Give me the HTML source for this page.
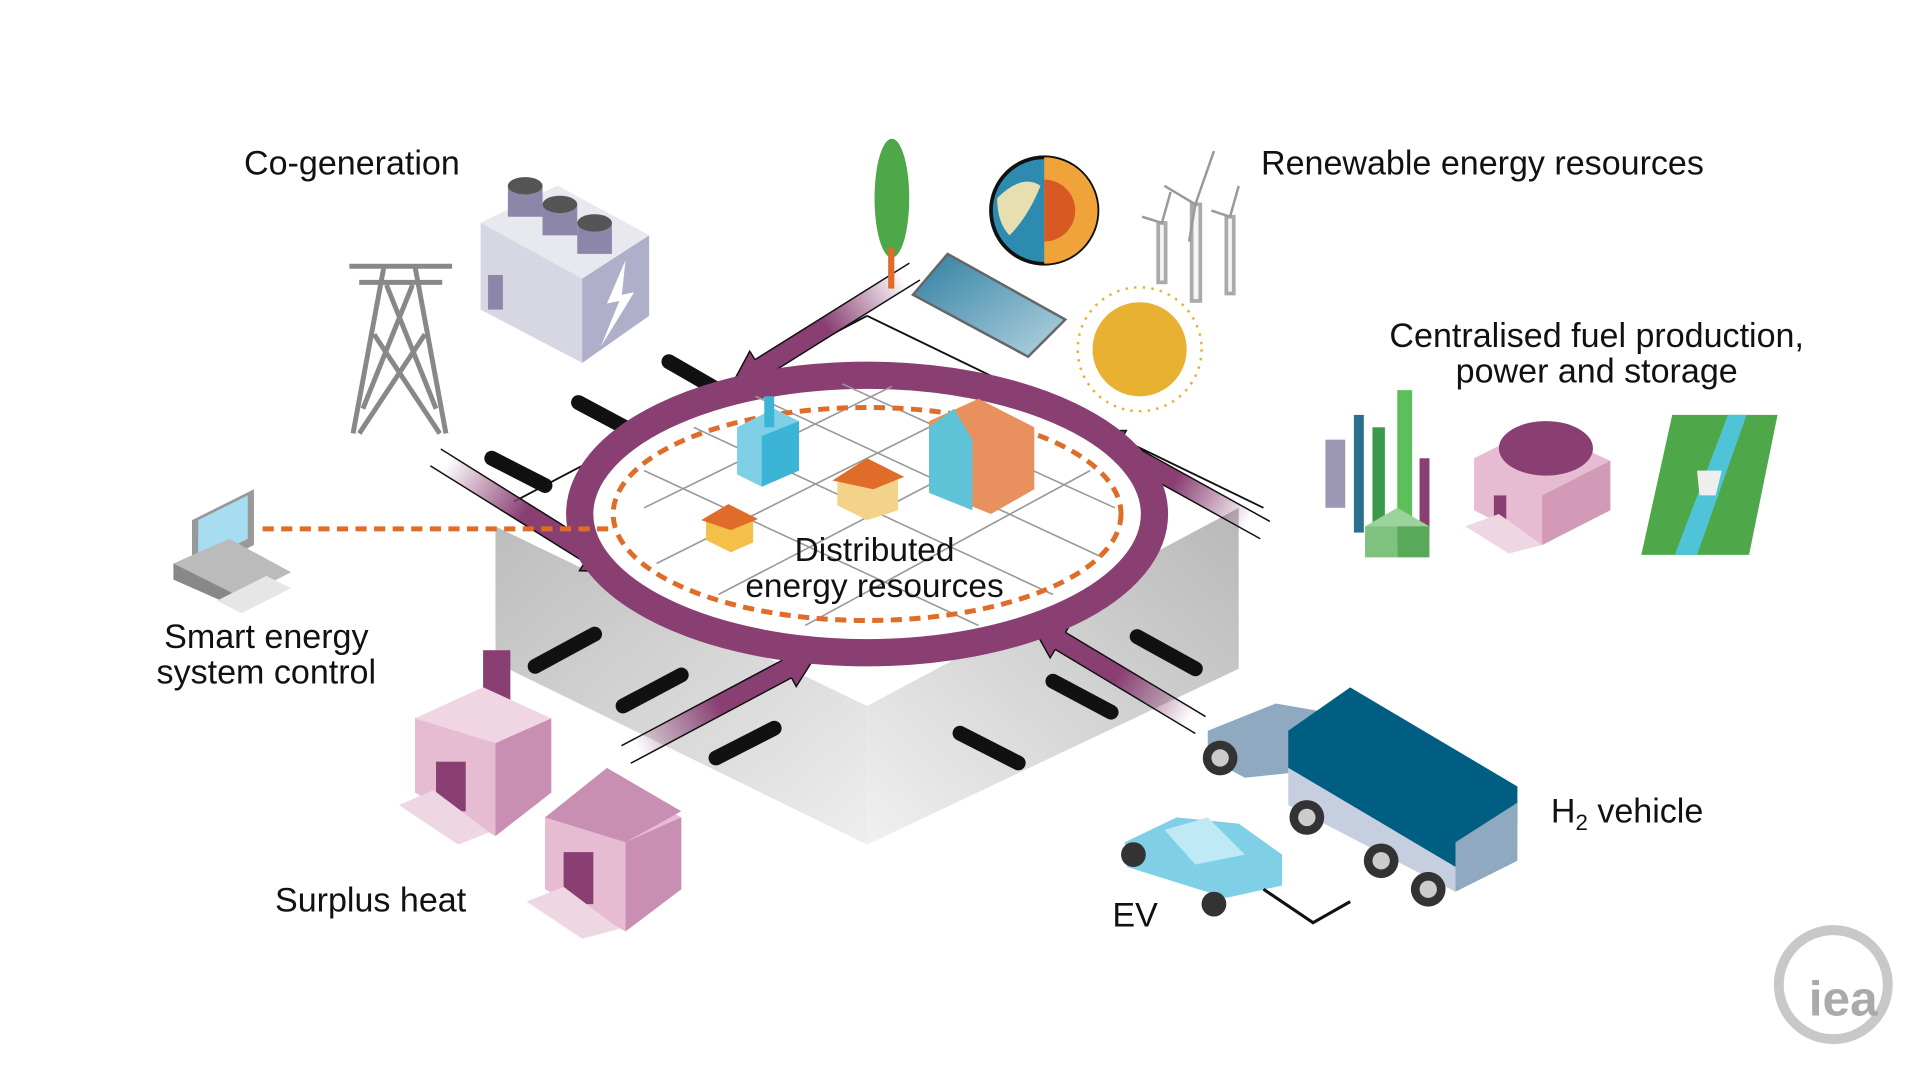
<!DOCTYPE html>
<html><head><meta charset="utf-8"><style>
html,body{margin:0;padding:0;background:#fff;width:1920px;height:1080px;overflow:hidden}
svg{display:block}
text{font-family:"Liberation Sans",sans-serif;fill:#111}
</style></head><body>
<svg width="1920" height="1080" viewBox="0 0 1550 872" preserveAspectRatio="none" xmlns="http://www.w3.org/2000/svg">
<defs>
<linearGradient id="gl" x1="0" y1="0" x2="1" y2="1"><stop offset="0" stop-color="#bdbdbd"/><stop offset="1" stop-color="#eeeeee"/></linearGradient>
<linearGradient id="gr" x1="1" y1="0" x2="0" y2="1"><stop offset="0" stop-color="#b8b8b8"/><stop offset="1" stop-color="#f0f0f0"/></linearGradient>
<linearGradient id="pa" x1="0" y1="0" x2="1" y2="0"><stop offset="0" stop-color="#8a3f73"/><stop offset="0.55" stop-color="#8a3f73"/><stop offset="1" stop-color="#8a3f73" stop-opacity="0"/></linearGradient>
<linearGradient id="sky" x1="0" y1="0" x2="1" y2="1"><stop offset="0" stop-color="#2f7fa0"/><stop offset="1" stop-color="#b5d4e2"/></linearGradient>
</defs>

<!-- platform -->
<polygon points="400,425 700,570 700,682 400,535" fill="url(#gl)"/>
<polygon points="700,570 1000,410 1000,540 700,682" fill="url(#gr)"/>
<polygon points="400,425 700,270 1000,410 700,570" fill="#fff"/>
<line x1="415" y1="405" x2="700" y2="255" stroke="#111" stroke-width="1.5"/>
<line x1="700" y1="255" x2="1020" y2="410" stroke="#111" stroke-width="1.5"/>

<!-- pipes -->
<g stroke="#111" stroke-width="12" stroke-linecap="round">
<line x1="540" y1="292" x2="585" y2="318"/>
<line x1="467" y1="325" x2="510" y2="348"/>
<line x1="397" y1="370" x2="440" y2="392"/>
<line x1="432" y1="538" x2="480" y2="512"/>
<line x1="503" y1="570" x2="550" y2="545"/>
<line x1="578" y1="612" x2="625" y2="588"/>
<line x1="775" y1="592" x2="822" y2="616"/>
<line x1="850" y1="550" x2="897" y2="575"/>
<line x1="918" y1="514" x2="965" y2="540"/>
</g>

<!-- arrows (bands) -->
<g fill="url(#pa)" stroke="#111" stroke-width="1.2">
<g transform="translate(590,312) rotate(-32)"><polygon points="165,-8 28,-8 28,-16 0,0 28,16 28,8 165,8" stroke="none"/><path d="M28 -8 L28 -16 L0 0 L28 16 L28 8" fill="none"/><line x1="28" y1="-8" x2="175" y2="-8"/><line x1="28" y1="8" x2="175" y2="8"/></g>
<g transform="translate(500,462) rotate(212)"><polygon points="165,-8 28,-8 28,-16 0,0 28,16 28,8 165,8" stroke="none"/><path d="M28 -8 L28 -16 L0 0 L28 16 L28 8" fill="none"/><line x1="28" y1="-8" x2="175" y2="-8"/><line x1="28" y1="8" x2="175" y2="8"/></g>
<g transform="translate(660,527) rotate(152)"><polygon points="165,-8 28,-8 28,-16 0,0 28,16 28,8 165,8" stroke="none"/><path d="M28 -8 L28 -16 L0 0 L28 16 L28 8" fill="none"/><line x1="28" y1="-8" x2="175" y2="-8"/><line x1="28" y1="8" x2="175" y2="8"/></g>
<g transform="translate(832,503) rotate(31)"><polygon points="150,-8 28,-8 28,-16 0,0 28,16 28,8 150,8" stroke="none"/><path d="M28 -8 L28 -16 L0 0 L28 16 L28 8" fill="none"/><line x1="28" y1="-8" x2="160" y2="-8"/><line x1="28" y1="8" x2="160" y2="8"/></g>
<g transform="translate(877,348) rotate(29)"><polygon points="150,-8 28,-8 28,-16 0,0 28,16 28,8 150,8" stroke="none"/><path d="M28 -8 L28 -16 L0 0 L28 16 L28 8" fill="none"/><line x1="28" y1="-8" x2="165" y2="-8"/><line x1="28" y1="8" x2="165" y2="8"/></g>
</g>

<!-- ring -->
<ellipse cx="700" cy="415" rx="232" ry="112" fill="#fff" stroke="#8a3f73" stroke-width="22"/>
<!-- grid -->
<g stroke="#999" stroke-width="1.3">
<line x1="520" y1="380" x2="790" y2="505"/><line x1="560" y1="345" x2="850" y2="480"/><line x1="610" y1="320" x2="890" y2="450"/><line x1="680" y1="310" x2="900" y2="410"/>
<line x1="530" y1="455" x2="780" y2="330"/><line x1="580" y1="480" x2="830" y2="350"/><line x1="650" y1="505" x2="880" y2="380"/><line x1="520" y1="410" x2="720" y2="312"/>
</g>
<ellipse cx="700" cy="415" rx="205" ry="86" fill="none" stroke="#e06c2a" stroke-width="4" stroke-dasharray="9 6"/>
<line x1="212" y1="427" x2="495" y2="427" stroke="#e06c2a" stroke-width="4" stroke-dasharray="9 6"/>

<!-- buildings in circle -->
<polygon points="595,345 625,330 645,340 645,380 615,393 595,383" fill="#7fd0e6"/>
<polygon points="615,352 645,340 645,380 615,393" fill="#3cb4d6"/>
<rect x="617" y="320" width="8" height="25" fill="#3cb4d6"/>
<polygon points="750,340 790,322 835,345 835,395 800,415 750,395" fill="#e8915e"/>
<polygon points="750,345 770,330 785,355 785,412 750,398" fill="#5fc3d8"/>
<polygon points="676,390 700,372 725,388 725,412 700,420 676,408" fill="#f3d28a"/>
<polygon points="672,388 700,370 730,385 705,395" fill="#e06c2a"/>
<polygon points="570,420 588,408 608,420 608,438 590,446 570,436" fill="#f4c04a"/>
<polygon points="566,420 588,407 612,419 590,428" fill="#e06c2a"/>

<text x="706" y="453" font-size="27" text-anchor="middle">Distributed</text>
<text x="706" y="482" font-size="27" text-anchor="middle">energy resources</text>

<!-- tower -->
<g stroke="#888" stroke-width="4" fill="none">
<line x1="310" y1="215" x2="285" y2="350"/><line x1="335" y1="215" x2="360" y2="350"/>
<line x1="282" y1="215" x2="365" y2="215"/><line x1="290" y1="228" x2="357" y2="228"/>
<path d="M312 230 L352 330 M333 230 L293 330 M302 270 L355 350 M343 270 L290 350"/>
</g>
<!-- cogen -->
<polygon points="388,180 450,150 524,190 524,255 470,293 388,250" fill="#d6d7e3"/>
<polygon points="470,225 524,190 524,255 470,293" fill="#b0afc9"/>
<polygon points="388,180 450,150 524,190 470,225" fill="#e8e8ef"/>
<g fill="#8c86a8"><rect x="410" y="150" width="28" height="25"/><rect x="438" y="165" width="28" height="25"/><rect x="466" y="180" width="28" height="25"/></g>
<g fill="#555"><ellipse cx="424" cy="150" rx="14" ry="7"/><ellipse cx="452" cy="165" rx="14" ry="7"/><ellipse cx="480" cy="180" rx="14" ry="7"/></g>
<rect x="394" y="222" width="12" height="28" fill="#8c86a8"/>
<polygon points="505,210 490,245 500,243 485,280 512,236 502,238" fill="#fff"/>

<!-- tree, solar, globe, wind, sun -->
<ellipse cx="720" cy="160" rx="14" ry="48" fill="#4ea84a"/>
<rect x="717" y="200" width="5" height="33" fill="#e06c2a"/>
<polygon points="737,238 765,205 860,258 830,288" fill="url(#sky)" stroke="#666" stroke-width="2"/>
<circle cx="843" cy="170" r="43" fill="#2d8bb0" stroke="#111" stroke-width="3"/>
<path d="M843 127 A43 43 0 0 1 843 213 Z" fill="#f0a33a"/>
<path d="M843 145 A25 25 0 0 1 843 195 Z" fill="#d85a22"/>
<path d="M805 160 Q825 140 840 150 Q830 175 815 190 Q805 180 805 160Z" fill="#e8dfb0"/>
<g stroke="#aaa" stroke-width="3" fill="#f4f4f4"><rect x="962" y="165" width="7" height="78"/><rect x="935" y="180" width="6" height="48"/><rect x="990" y="175" width="6" height="62"/></g>
<g stroke="#999" stroke-width="2"><path d="M965 165 L980 122 M965 165 L940 150 M965 165 L960 195"/><path d="M938 180 L945 155 M938 180 L922 175"/><path d="M993 175 L1000 150 M993 175 L978 170"/></g>
<circle cx="920" cy="282" r="38" fill="#e8b132"/>
<circle cx="920" cy="282" r="50" fill="none" stroke="#e8b132" stroke-width="2" stroke-dasharray="2 5"/>

<!-- centralised -->
<g>
<rect x="1070" y="355" width="16" height="55" fill="#9c97b5"/>
<rect x="1093" y="335" width="8" height="95" fill="#2a6f8c"/>
<rect x="1108" y="345" width="10" height="85" fill="#3a9a4a"/>
<rect x="1128" y="315" width="12" height="115" fill="#5cbf5a"/>
<rect x="1146" y="370" width="8" height="60" fill="#8a3f73"/>
<polygon points="1102,425 1128,410 1154,425 1128,440" fill="#9bd49a"/>
<rect x="1102" y="425" width="26" height="25" fill="#7fc27d"/>
<rect x="1128" y="425" width="26" height="25" fill="#5aa85a"/>
</g>
<polygon points="1190,370 1240,345 1300,372 1300,412 1245,440 1190,412" fill="#e6bcd2"/>
<polygon points="1245,400 1300,372 1300,412 1245,440" fill="#d39ab8"/>
<ellipse cx="1248" cy="362" rx="38" ry="22" fill="#8a3f73"/>
<rect x="1206" y="400" width="10" height="25" fill="#8a3f73"/>
<polygon points="1183,425 1210,415 1245,440 1218,447" fill="#eed6e2"/>
<polygon points="1350,335 1435,335 1412,448 1325,448" fill="#4ea84a"/>
<polygon points="1395,335 1410,335 1370,448 1352,448" fill="#4fc4d8"/>
<polygon points="1370,380 1390,380 1385,400 1372,400" fill="#eee"/>

<!-- computer -->
<polygon points="155,420 205,395 205,440 155,465" fill="#999"/>
<polygon points="160,420 200,400 200,435 160,455" fill="#a8dcf0"/>
<polygon points="140,455 185,435 235,462 190,485" fill="#bbb"/>
<polygon points="140,455 190,480 190,490 140,468" fill="#888"/>
<polygon points="175,485 215,465 235,475 195,495" fill="#e6e6e6"/>

<!-- surplus heat -->
<rect x="390" y="525" width="22" height="45" fill="#8a3f73"/>
<polygon points="335,580 390,555 445,580 445,640 400,675 335,640" fill="#e6bcd2"/>
<polygon points="400,600 445,580 445,640 400,675" fill="#c98fb2"/>
<polygon points="335,580 390,555 445,580 400,600" fill="#f0d6e3"/>
<rect x="352" y="615" width="24" height="40" fill="#8a3f73"/>
<polygon points="322,650 350,638 395,672 370,682" fill="#eed6e2"/>
<polygon points="440,660 495,630 550,660 550,718 505,752 440,718" fill="#e6bcd2"/>
<polygon points="505,680 550,660 550,718 505,752" fill="#c98fb2"/>
<polygon points="440,660 490,620 550,655 505,680" fill="#c98fb2"/>
<rect x="455" y="688" width="24" height="42" fill="#8a3f73"/>
<polygon points="425,728 455,716 500,750 470,758" fill="#eed6e2"/>

<!-- vehicles -->
<polygon points="975,590 1030,568 1070,575 1080,620 1005,628 975,612" fill="#8fa9c0"/>
<polygon points="1040,590 1090,555 1225,635 1225,665 1175,700 1040,620" fill="#005e82"/>
<polygon points="1040,620 1175,700 1175,720 1040,650" fill="#c5cfe0"/>
<polygon points="1175,680 1225,648 1225,695 1175,720" fill="#8fa9c0"/>
<g fill="#333"><circle cx="985" cy="612" r="14"/><circle cx="1055" cy="660" r="14"/><circle cx="1115" cy="695" r="14"/><circle cx="1153" cy="718" r="14"/></g>
<g fill="#ccc"><circle cx="985" cy="612" r="7"/><circle cx="1055" cy="660" r="7"/><circle cx="1115" cy="695" r="7"/><circle cx="1153" cy="718" r="7"/></g>
<polygon points="908,680 950,660 1000,665 1035,690 1035,715 990,725 910,700" fill="#7fd0e6"/>
<polygon points="940,670 975,660 1005,690 965,698" fill="#bfe9f4"/>
<g fill="#333"><circle cx="915" cy="690" r="10"/><circle cx="980" cy="730" r="10"/></g>
<polyline points="1020,718 1060,745 1090,728" fill="none" stroke="#111" stroke-width="2.5"/>

<!-- iea logo -->
<circle cx="1480" cy="795" r="44" fill="none" stroke="#c8c8c8" stroke-width="8"/>
<text x="1488" y="820" font-size="40" font-weight="bold" text-anchor="middle" style="fill:#aaa">iea</text>

<!-- labels -->
<g font-size="27.5">
<text x="197" y="141">Co-generation</text>
<text x="1018" y="141">Renewable energy resources</text>
<text x="1289" y="280" text-anchor="middle">Centralised fuel production,</text>
<text x="1289" y="309" text-anchor="middle">power and storage</text>
<text x="215" y="523" text-anchor="middle">Smart energy</text>
<text x="215" y="552" text-anchor="middle">system control</text>
<text x="222" y="736">Surplus heat</text>
<text x="1252" y="664">H<tspan font-size="18" dy="6">2</tspan><tspan dy="-6"> vehicle</tspan></text>
<text x="898" y="748">EV</text>
</g>
</svg>
</body></html>
